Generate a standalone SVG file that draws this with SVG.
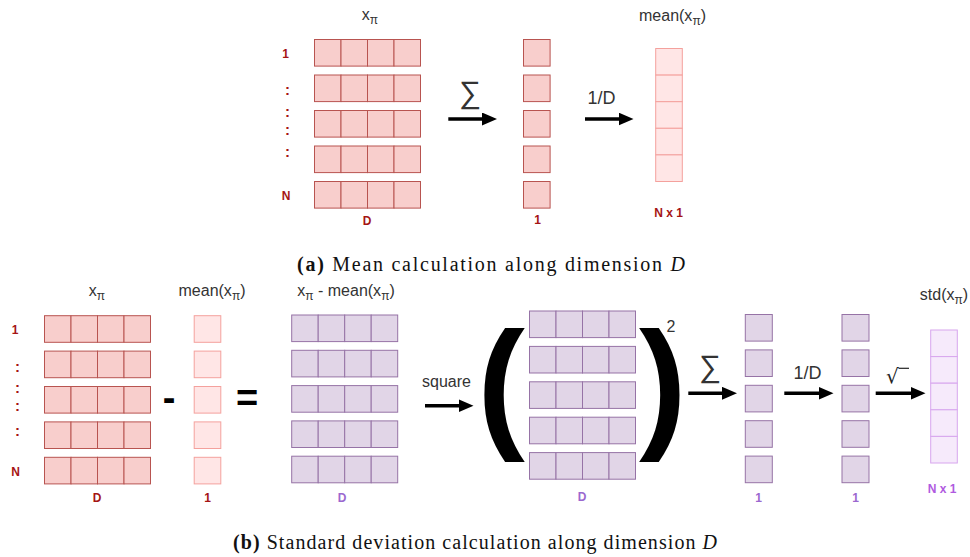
<svg xmlns="http://www.w3.org/2000/svg" xmlns:xlink="http://www.w3.org/1999/xlink" width="970" height="557" viewBox="0 0 970 557">
<style>
.r{fill:#f8cecc;stroke:#b85450;stroke-width:1}
.rl{fill:#ffe6e6;stroke:#f4a19d;stroke-width:1}
.p{fill:#e1d5e7;stroke:#9673a6;stroke-width:1}
.pl{fill:#f6eafb;stroke:#d8a6ee;stroke-width:1}
.lbl{font-family:"Liberation Sans",Arial,sans-serif;font-size:16px;fill:#333}
.sub{font-size:12px}
.rt{font-family:"Liberation Sans",Arial,sans-serif;font-size:12px;font-weight:bold;fill:#a51414}
.col{font-family:"Liberation Sans",Arial,sans-serif;font-size:15px;font-weight:bold;fill:#a51414}
.pt{font-family:"Liberation Sans",Arial,sans-serif;font-size:12px;font-weight:bold;fill:#9b68cf}
.pn{fill:#b05ae0}
.op{font-family:"Liberation Sans",Arial,sans-serif;font-weight:bold;fill:#000}
.cap{font-family:"Liberation Serif","Times New Roman",serif;font-size:20px;fill:#111}
.arr{stroke:#000;stroke-width:3.5;fill:none}
.conlbl{font-family:"Liberation Sans",Arial,sans-serif;font-size:18px;fill:#333}
.sig{font-family:"Liberation Sans",Arial,sans-serif;font-size:31px;fill:#333}
</style>
<defs>
<marker id="ah" markerUnits="userSpaceOnUse" markerWidth="15" markerHeight="13" viewBox="0 0 15 13" refX="2" refY="6.5" orient="auto">
<path d="M0,0 L15,6.5 L0,13 z" fill="#000"/>
</marker>
<g id="rowR"><rect class="r" x="0" y="0" width="26.5" height="26.6"/><rect class="r" x="26.5" y="0" width="26.5" height="26.6"/><rect class="r" x="53" y="0" width="26.5" height="26.6"/><rect class="r" x="79.5" y="0" width="26.5" height="26.6"/></g>
<g id="rowP"><rect class="p" x="0" y="0" width="26.5" height="26.6"/><rect class="p" x="26.5" y="0" width="26.5" height="26.6"/><rect class="p" x="53" y="0" width="26.5" height="26.6"/><rect class="p" x="79.5" y="0" width="26.5" height="26.6"/></g>
<rect id="cR" class="r" x="0" y="0" width="26.6" height="26.6"/>
<rect id="cRL" class="rl" x="0" y="0" width="26.6" height="26.6"/>
<rect id="cP" class="p" x="0" y="0" width="27" height="26.6"/>
</defs>

<!-- Part (a) -->
<g id="a-x">
<text class="lbl" x="370" y="19.5" text-anchor="middle">x<tspan class="sub" dy="4">π</tspan></text>
<use xlink:href="#rowR" x="314.5" y="39.5"/>
<use xlink:href="#rowR" x="314.5" y="75"/>
<use xlink:href="#rowR" x="314.5" y="110.5"/>
<use xlink:href="#rowR" x="314.5" y="146"/>
<use xlink:href="#rowR" x="314.5" y="181.5"/>
<text class="rt" x="285.5" y="57.5" text-anchor="middle">1</text>
<text class="col" x="287.5" y="95" text-anchor="middle">:</text>
<text class="col" x="287.5" y="117" text-anchor="middle">:</text>
<text class="col" x="287.5" y="135" text-anchor="middle">:</text>
<text class="col" x="287.5" y="157" text-anchor="middle">:</text>
<text class="rt" x="286" y="199.5" text-anchor="middle">N</text>
<text class="rt" x="367" y="225" text-anchor="middle">D</text>
</g>
<g id="a-sum">
<use xlink:href="#cR" x="523.5" y="39.5"/>
<use xlink:href="#cR" x="523.5" y="75"/>
<use xlink:href="#cR" x="523.5" y="110.5"/>
<use xlink:href="#cR" x="523.5" y="146"/>
<use xlink:href="#cR" x="523.5" y="181.5"/>
<text class="rt" x="537.5" y="224" text-anchor="middle">1</text>
</g>
<g id="a-mean">
<text class="lbl" x="672.5" y="20.5" text-anchor="middle">mean(x<tspan class="sub" dy="4">π</tspan><tspan dy="-4">)</tspan></text>
<use xlink:href="#cRL" x="655.7" y="48.5"/>
<use xlink:href="#cRL" x="655.7" y="75.1"/>
<use xlink:href="#cRL" x="655.7" y="101.7"/>
<use xlink:href="#cRL" x="655.7" y="128.3"/>
<use xlink:href="#cRL" x="655.7" y="154.9"/>
<text class="rt" x="668.5" y="216.5" text-anchor="middle">N x 1</text>
</g>

<!-- Part (b) -->
<g id="b-x">
<text class="lbl" x="97" y="296" text-anchor="middle">x<tspan class="sub" dy="4">π</tspan></text>
<use xlink:href="#rowR" x="44.5" y="315.7"/>
<use xlink:href="#rowR" x="44.5" y="351.1"/>
<use xlink:href="#rowR" x="44.5" y="386.5"/>
<use xlink:href="#rowR" x="44.5" y="421.9"/>
<use xlink:href="#rowR" x="44.5" y="457.3"/>
<text class="rt" x="15" y="334" text-anchor="middle">1</text>
<text class="col" x="17.5" y="372" text-anchor="middle">:</text>
<text class="col" x="17.5" y="393" text-anchor="middle">:</text>
<text class="col" x="17.5" y="411" text-anchor="middle">:</text>
<text class="col" x="17.5" y="436" text-anchor="middle">:</text>
<text class="rt" x="15.5" y="476" text-anchor="middle">N</text>
<text class="rt" x="97" y="501.5" text-anchor="middle">D</text>
</g>
<g id="b-mean">
<text class="lbl" x="212" y="296" text-anchor="middle">mean(x<tspan class="sub" dy="4">π</tspan><tspan dy="-4">)</tspan></text>
<use xlink:href="#cRL" x="194.2" y="315.7"/>
<use xlink:href="#cRL" x="194.2" y="351.1"/>
<use xlink:href="#cRL" x="194.2" y="386.5"/>
<use xlink:href="#cRL" x="194.2" y="421.9"/>
<use xlink:href="#cRL" x="194.2" y="457.3"/>
<text class="rt" x="207.5" y="501.5" text-anchor="middle">1</text>
</g>
<g id="b-minus"><text class="op" x="169" y="411" font-size="38" text-anchor="middle">-</text></g>
<g id="b-equals"><text class="op" x="247" y="411" font-size="38" text-anchor="middle">=</text></g>
<g id="b-diff">
<text class="lbl" x="346" y="296" text-anchor="middle">x<tspan class="sub" dy="4">π</tspan><tspan dy="-4"> - mean(x</tspan><tspan class="sub" dy="4">π</tspan><tspan dy="-4">)</tspan></text>
<use xlink:href="#rowP" x="291.7" y="315"/>
<use xlink:href="#rowP" x="291.7" y="350.3"/>
<use xlink:href="#rowP" x="291.7" y="385.6"/>
<use xlink:href="#rowP" x="291.7" y="420.9"/>
<use xlink:href="#rowP" x="291.7" y="456.2"/>
<text class="pt" x="342" y="501.5" text-anchor="middle">D</text>
</g>
<g id="b-square">
<text class="op" x="477.3" y="432" font-size="143">(</text>
<use xlink:href="#rowP" x="529.5" y="311"/>
<use xlink:href="#rowP" x="529.5" y="346.4"/>
<use xlink:href="#rowP" x="529.5" y="381.8"/>
<use xlink:href="#rowP" x="529.5" y="417.2"/>
<use xlink:href="#rowP" x="529.5" y="452.6"/>
<text class="op" x="639" y="432" font-size="143">)</text>
<text class="lbl" x="671" y="331.5" font-size="15" text-anchor="middle" fill="#000">2</text>
<text class="pt" x="582" y="501" text-anchor="middle">D</text>
</g>
<g id="b-sum">
<use xlink:href="#cP" x="745.3" y="314.5"/>
<use xlink:href="#cP" x="745.3" y="349.9"/>
<use xlink:href="#cP" x="745.3" y="385.3"/>
<use xlink:href="#cP" x="745.3" y="420.7"/>
<use xlink:href="#cP" x="745.3" y="456.1"/>
<text class="pt" x="758.5" y="501.5" text-anchor="middle">1</text>
</g>
<g id="b-div">
<use xlink:href="#cP" x="842" y="314.5"/>
<use xlink:href="#cP" x="842" y="349.9"/>
<use xlink:href="#cP" x="842" y="385.3"/>
<use xlink:href="#cP" x="842" y="420.7"/>
<use xlink:href="#cP" x="842" y="456.1"/>
<text class="pt" x="855.5" y="501.5" text-anchor="middle">1</text>
</g>
<g id="b-std">
<text class="lbl" x="944" y="299.5" text-anchor="middle">std(x<tspan class="sub" dy="4">π</tspan><tspan dy="-4">)</tspan></text>
<rect class="pl" x="930.7" y="330" width="26.6" height="26.6"/>
<rect class="pl" x="930.7" y="356.6" width="26.6" height="26.6"/>
<rect class="pl" x="930.7" y="383.2" width="26.6" height="26.6"/>
<rect class="pl" x="930.7" y="409.8" width="26.6" height="26.6"/>
<rect class="pl" x="930.7" y="436.4" width="26.6" height="26.6"/>
<text class="pt pn" x="942" y="492.5" text-anchor="middle">N x 1</text>
</g>

<g id="connectors">
<line class="arr" x1="448.3" y1="119" x2="484" y2="119" marker-end="url(#ah)"/>
<text class="sig" x="470" y="103" text-anchor="middle">∑</text>
<line class="arr" x1="585" y1="119" x2="620.5" y2="119" marker-end="url(#ah)"/>
<text class="conlbl" x="601.5" y="103.5" text-anchor="middle">1/D</text>
<line class="arr" x1="425" y1="405.7" x2="460.5" y2="405.7" marker-end="url(#ah)"/>
<text class="lbl" x="446.5" y="387" text-anchor="middle">square</text>
<line class="arr" x1="688.3" y1="393.3" x2="724" y2="393.3" marker-end="url(#ah)"/>
<text class="sig" x="710" y="377" text-anchor="middle">∑</text>
<line class="arr" x1="784.3" y1="393.3" x2="820.5" y2="393.3" marker-end="url(#ah)"/>
<text class="conlbl" x="807.5" y="378.5" text-anchor="middle">1/D</text>
<line class="arr" x1="875.7" y1="393.3" x2="912.5" y2="393.3" marker-end="url(#ah)"/>
<text x="886" y="383" font-family="DejaVu Sans, sans-serif" font-size="20" fill="#222">√</text>
<line x1="898.5" y1="368.3" x2="909" y2="368.3" stroke="#222" stroke-width="1.2"/>
</g>

<g id="captions">
<text class="cap" x="297" y="271" textLength="388" lengthAdjust="spacing"><tspan font-weight="bold">(a)</tspan> Mean calculation along dimension <tspan font-style="italic">D</tspan></text>
<text class="cap" x="233" y="549" textLength="484" lengthAdjust="spacing"><tspan font-weight="bold">(b)</tspan> Standard deviation calculation along dimension <tspan font-style="italic">D</tspan></text>
</g>
</svg>
